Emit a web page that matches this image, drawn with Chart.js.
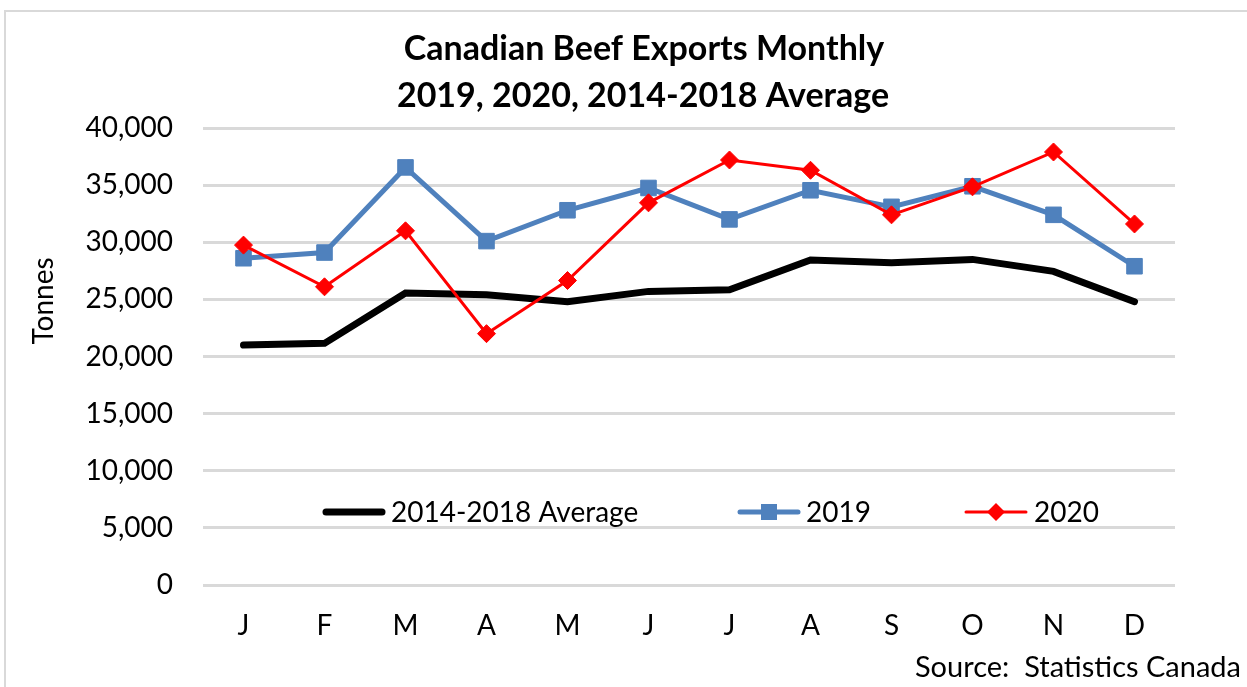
<!DOCTYPE html>
<html>
<head>
<meta charset="utf-8">
<script src="https://cdn.jsdelivr.net/npm/chart.js@4/dist/chart.umd.min.js"></script>
<style>
  html, body { margin: 0; padding: 0; background: #fff; overflow: hidden; }
  #frame { position: absolute; left: 4px; top: 10px; width: 1260px; height: 700px; border: 2px solid #d9d9d9; box-sizing: border-box; }
  #chart { position: absolute; left: 0; top: 0; }
</style>
</head>
<body>
<div id="frame"></div>
<canvas id="chart" width="1247" height="687"></canvas>
<script>
const months = ["J", "F", "M", "A", "M", "J", "J", "A", "S", "O", "N", "D"];
const avg1418 = [21000, 21150, 25550, 25400, 24800, 25700, 25850, 28450, 28200, 28500, 27450, 24800];
const y2019 = [28600, 29100, 36550, 30100, 32800, 34750, 32000, 34550, 33100, 34900, 32400, 27900];
const y2020 = [29750, 26100, 31000, 22000, 26650, 33450, 37200, 36300, 32400, 34850, 37900, 31600];
const yTicks = [0, 5000, 10000, 15000, 20000, 25000, 30000, 35000, 40000];
const titleLines = ["Canadian Beef Exports Monthly", "2019, 2020, 2014-2018 Average"];

const FONT = "Lato, 'Open Sans', sans-serif";

// title, legend, axis title and source note drawn on top
const decorations = {
    id: "decorations",
    afterDraw(chart) {
        const ctx = chart.ctx;
        ctx.save();

        // title, centred on the whole picture
        ctx.font = "bold 34px " + FONT;
        ctx.fillStyle = "#000";
        ctx.textAlign = "center";
        ctx.textBaseline = "middle";
        ctx.fillText(titleLines[0], 644, 49);
        ctx.fillText(titleLines[1], 643, 96);

        const y = 512;
        ctx.font = "28px " + FONT;
        ctx.textAlign = "left";
        ctx.lineCap = "round";

        // 2014-2018 Average
        ctx.strokeStyle = "#000";
        ctx.lineWidth = 7;
        ctx.beginPath(); ctx.moveTo(326, y); ctx.lineTo(382, y); ctx.stroke();
        ctx.fillText("2014-2018 Average", 391, y + 1);

        // 2019
        ctx.strokeStyle = "#4F81BD";
        ctx.lineWidth = 5;
        ctx.beginPath(); ctx.moveTo(740, y); ctx.lineTo(798, y); ctx.stroke();
        ctx.fillStyle = "#4F81BD";
        ctx.fillRect(761, y - 8, 16, 16);
        ctx.fillStyle = "#000";
        ctx.fillText("2019", 806, y + 1);

        // 2020
        ctx.strokeStyle = "#FF0000";
        ctx.lineWidth = 3;
        ctx.beginPath(); ctx.moveTo(966, y); ctx.lineTo(1026, y); ctx.stroke();
        ctx.fillStyle = "#FF0000";
        ctx.beginPath();
        ctx.moveTo(996, y - 9); ctx.lineTo(1005, y); ctx.lineTo(996, y + 9); ctx.lineTo(987, y);
        ctx.closePath(); ctx.fill();
        ctx.fillStyle = "#000";
        ctx.fillText("2020", 1034, y + 1);

        ctx.font = "29px " + FONT;
        ctx.textAlign = "right";
        ctx.fillText("Source:  Statistics Canada", 1241, 668);

        ctx.font = "28px " + FONT;
        ctx.translate(44, 301);
        ctx.rotate(-Math.PI / 2);
        ctx.textAlign = "center";
        ctx.fillText("Tonnes", 0, 0);
        ctx.restore();
    }
};

new Chart(document.getElementById("chart"), {
    type: "line",
    data: {
        labels: months,
        datasets: [
            {
                label: "2014-2018 Average",
                data: avg1418,
                borderColor: "#000000",
                backgroundColor: "#000000",
                borderWidth: 7,
                borderCapStyle: "round",
                pointRadius: 0,
                tension: 0,
                order: 3
            },
            {
                label: "2019",
                data: y2019,
                borderColor: "#4F81BD",
                backgroundColor: "#4F81BD",
                borderWidth: 5,
                pointStyle: "rect",
                pointRadius: 11,
                pointBorderWidth: 1,
                tension: 0,
                order: 2
            },
            {
                label: "2020",
                data: y2020,
                borderColor: "#FF0000",
                backgroundColor: "#FF0000",
                borderWidth: 3,
                pointStyle: "rectRot",
                pointRadius: 9,
                pointBorderWidth: 1,
                tension: 0,
                order: 1
            }
        ]
    },
    options: {
        responsive: false,
        animation: false,
        layout: { padding: { left: 0, right: 72, top: 128, bottom: 0 } },
        plugins: {
            legend: { display: false },
            tooltip: { enabled: false },
            title: { display: false }
        },
        scales: {
            x: {
                offset: true,
                grid: { display: false, drawTicks: false },
                border: { display: false },
                ticks: { color: "#000", font: { family: FONT, size: 28 }, padding: 24, maxRotation: 0 },
                afterFit(scale) { scale.height = 102; }
            },
            y: {
                min: 0,
                max: 40000,
                afterBuildTicks(scale) { scale.ticks = yTicks.map(v => ({ value: v })); },
                grid: { color: "#d9d9d9", lineWidth: 3, drawTicks: false },
                border: { display: false },
                ticks: {
                    color: "#000",
                    font: { family: FONT, size: 28 },
                    padding: 30,
                    callback: v => v.toLocaleString("en-US")
                },
                afterFit(scale) { scale.width = 203; }
            }
        }
    },
    plugins: [decorations]
});
</script>
</body>
</html>
